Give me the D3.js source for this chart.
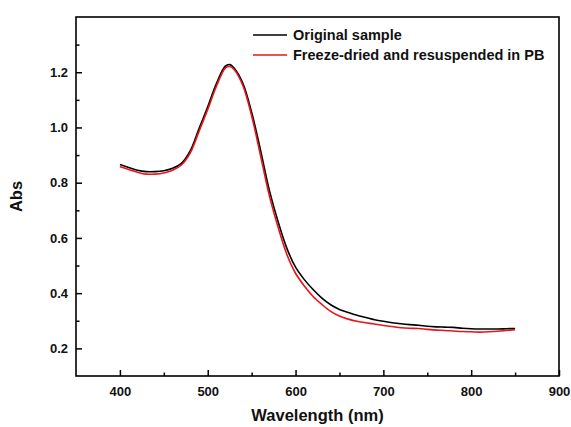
<!DOCTYPE html>
<html>
<head>
<meta charset="utf-8">
<script src="https://cdn.jsdelivr.net/npm/d3@7"></script>
<style>
  body { margin: 0; background: #fff; }
  svg text { font-family: "Liberation Sans", Arial, sans-serif; font-weight: bold; fill: #111; }
</style>
</head>
<body>
<div id="chart"></div>
<script>
// Wavelength grid (nm)
const wavelengths = [400, 410, 420, 430, 440, 450, 460, 470, 480, 490, 500, 510, 520, 525, 530, 540, 550, 560, 570, 580,
    590, 600, 610, 620, 630, 640, 650, 660, 670, 680, 690, 700, 710, 720, 730, 740, 750, 760, 770, 780,
    790, 800, 810, 820, 830, 840, 850];

const originalAbs = [0.866, 0.855, 0.845, 0.840, 0.840, 0.843, 0.852, 0.870, 0.915, 0.995, 1.075, 1.160, 1.222, 1.228, 1.215, 1.160, 1.055, 0.920, 0.775, 0.660,
    0.563, 0.494, 0.449, 0.413, 0.382, 0.358, 0.341, 0.330, 0.320, 0.312, 0.304, 0.298, 0.293, 0.289, 0.286, 0.284, 0.280, 0.278, 0.277, 0.276,
    0.273, 0.271, 0.270, 0.270, 0.270, 0.271, 0.272];

const freezeDriedAbs = [0.858, 0.848, 0.838, 0.831, 0.831, 0.835, 0.845, 0.864, 0.907, 0.985, 1.065, 1.150, 1.215, 1.221, 1.210, 1.152, 1.042, 0.900, 0.755, 0.640,
    0.541, 0.472, 0.426, 0.388, 0.359, 0.334, 0.317, 0.306, 0.298, 0.293, 0.288, 0.283, 0.279, 0.275, 0.273, 0.272, 0.269, 0.266, 0.265, 0.263,
    0.261, 0.260, 0.259, 0.260, 0.262, 0.265, 0.268];

const seriesNames = ["Original sample", "Freeze-dried and resuspended in PB"];
const seriesColors = ["#000000", "#e8141b"];

const xTicks = [400, 500, 600, 700, 800, 900];
const xMinor = [450, 550, 650, 750, 850];
const yTicks = [0.2, 0.4, 0.6, 0.8, 1.0, 1.2];
const yMinor = [0.3, 0.5, 0.7, 0.9, 1.1, 1.3];

// Set dimensions
const W = 571, H = 427;
const margin = { top: 17, right: 12, bottom: 51, left: 76 };
const width = W - margin.left - margin.right;
const height = H - margin.top - margin.bottom;

const svg = d3.select("#chart")
    .append("svg")
    .attr("width", W)
    .attr("height", H);

const g = svg.append("g")
    .attr("transform", `translate(${margin.left},${margin.top})`);

const x = d3.scaleLinear().domain([350, 900]).range([0, width]);
const y = d3.scaleLinear().domain([0.1, 1.4]).range([height, 0]);

// X axis (ticks point inward)
g.append("g")
    .attr("transform", `translate(0, ${height})`)
    .call(d3.axisBottom(x).tickValues(xTicks).tickSizeInner(-6).tickSizeOuter(0).tickPadding(11).tickFormat(d3.format("d")));
g.append("g")
    .attr("transform", `translate(0, ${height})`)
    .call(d3.axisBottom(x).tickValues(xMinor).tickSizeInner(-3.5).tickSizeOuter(0).tickFormat(""));

// Y axis
g.append("g")
    .call(d3.axisLeft(y).tickValues(yTicks).tickSizeInner(-6).tickSizeOuter(0).tickPadding(8).tickFormat(d3.format(".1f")));
g.append("g")
    .call(d3.axisLeft(y).tickValues(yMinor).tickSizeInner(-3.5).tickSizeOuter(0).tickFormat(""));

g.selectAll(".domain").remove();
g.selectAll(".tick line").attr("stroke", "#000").attr("stroke-width", 1.5);
g.selectAll(".tick text").style("font-size", "13px");

// Frame
g.append("rect")
    .attr("width", width)
    .attr("height", height)
    .attr("fill", "none")
    .attr("stroke", "#000")
    .attr("stroke-width", 1.6);

// Curves
const series = [originalAbs, freezeDriedAbs];
const line = d3.line()
    .x((d, i) => x(wavelengths[i]))
    .y(d => y(d))
    .curve(d3.curveCatmullRom.alpha(0.5));

series.forEach((vals, k) => {
    g.append("path")
        .datum(vals)
        .attr("fill", "none")
        .attr("stroke", seriesColors[k])
        .attr("stroke-width", 1.6)
        .attr("d", line);
});

// Legend
const legend = g.append("g").attr("transform", "translate(177, 18)");
seriesNames.forEach((name, k) => {
    const row = legend.append("g").attr("transform", `translate(0, ${k * 20})`);
    row.append("line")
        .attr("x1", 0).attr("x2", 34)
        .attr("stroke", seriesColors[k])
        .attr("stroke-width", 1.6);
    row.append("text")
        .attr("x", 40)
        .attr("dy", "0.35em")
        .style("font-size", "14.5px")
        .text(name);
});

// Axis titles
svg.append("text")
    .attr("x", margin.left + width / 2)
    .attr("y", 417)
    .attr("text-anchor", "middle")
    .attr("dominant-baseline", "middle")
    .style("font-size", "16.5px")
    .text("Wavelength (nm)");

svg.append("text")
    .attr("transform", `translate(18, ${margin.top + height / 2}) rotate(-90)`)
    .attr("text-anchor", "middle")
    .attr("dominant-baseline", "middle")
    .style("font-size", "16.5px")
    .text("Abs");
</script>
</body>
</html>
